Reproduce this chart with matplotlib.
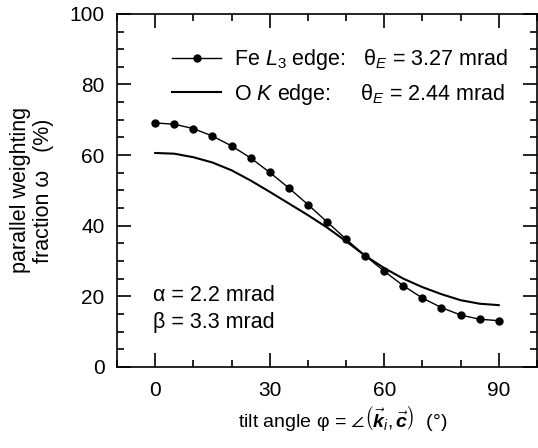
import matplotlib
matplotlib.use("Agg")
import matplotlib.pyplot as plt
from matplotlib.ticker import MultipleLocator

plt.rcParams['font.family'] = ['Liberation Sans', 'DejaVu Sans']
plt.rcParams['mathtext.fontset'] = 'custom'
plt.rcParams['mathtext.rm'] = 'Liberation Sans'
plt.rcParams['mathtext.it'] = 'Liberation Sans:italic'
plt.rcParams['mathtext.bf'] = 'Liberation Sans:bold:italic'

# Data
phi = [0, 5, 10, 15, 20, 25, 30, 35, 40, 45, 50, 55, 60, 65, 70, 75, 80, 85, 90]
fe_L3 = [69.1, 68.75, 67.5, 65.4, 62.6, 59.2, 55.1, 50.7, 46.0, 41.1, 36.2, 31.5,
         27.1, 23.0, 19.5, 16.8, 14.7, 13.5, 13.1]
o_K = [60.6, 60.4, 59.4, 57.9, 55.7, 52.8, 49.6, 46.3, 43.0, 39.5, 35.6, 31.5,
       28.0, 25.0, 22.6, 20.6, 18.9, 17.9, 17.5]
fe_label = r"Fe $\mathit{L}_3$ edge:   θ$_{\mathit{E}}$ = 3.27 mrad"
o_label = r"O $\mathit{K}$ edge:     θ$_{\mathit{E}}$ = 2.44 mrad"

FS = 15

fig = plt.figure(figsize=(5.38, 4.48), dpi=100)
ax = fig.add_axes([0.2175, 0.181, 0.7805, 0.788])

ax.plot(phi, fe_L3, '-o', color='black', lw=1.0, ms=5.0, label=fe_label)
ax.plot(phi, o_K, '-', color='black', lw=1.5, label=o_label)

ax.set_xlim(-10, 100)
ax.set_ylim(0, 100)
ax.xaxis.set_major_locator(MultipleLocator(30))
ax.xaxis.set_minor_locator(MultipleLocator(10))
ax.yaxis.set_major_locator(MultipleLocator(20))
ax.yaxis.set_minor_locator(MultipleLocator(5))
ax.tick_params(which='both', direction='in', top=True, right=True,
               labelsize=FS, width=1.2)
ax.tick_params(which='major', length=10)
ax.tick_params(which='minor', length=5)
ax.tick_params(axis='x', which='major', pad=10)
ax.tick_params(axis='y', which='major', pad=9)
for s in ax.spines.values():
    s.set_linewidth(1.2)

ax.set_xlabel(r"tilt angle φ = $\angle\left(\vec{\mathbf{k}}_{i},\vec{\mathbf{c}}\right)$  (°)",
              fontsize=14)
ax.xaxis.set_label_coords(0.537, -0.105)
ax.set_ylabel("parallel weighting\nfraction ω   (%)", fontsize=15.5,
              linespacing=1.15)
ax.yaxis.set_label_coords(-0.15, 0.5)

ax.legend(loc='upper left', bbox_to_anchor=(0.11, 0.93), frameon=False,
          fontsize=15.5, handlelength=2.3, handletextpad=0.6, labelspacing=0.45,
          borderaxespad=0)

ax.text(0.085, 0.201, "α = 2.2 mrad", transform=ax.transAxes, fontsize=15.5,
        va='center', ha='left')
ax.text(0.085, 0.127, "β = 3.3 mrad", transform=ax.transAxes, fontsize=15.5,
        va='center', ha='left')

fig.savefig("out.png", dpi=100)
